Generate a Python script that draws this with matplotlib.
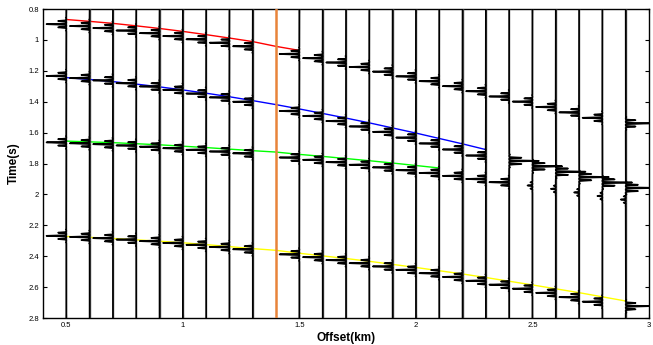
import numpy as np
import matplotlib
matplotlib.use("Agg")
import matplotlib.pyplot as plt

plt.rcParams['font.family'] = ['Liberation Sans', 'DejaVu Sans']

# ---- data ----
offsets = [0.5, 0.6, 0.7, 0.8, 0.9, 1.0, 1.1, 1.2, 1.3, 1.5, 1.6, 1.7, 1.8,
           1.9, 2.0, 2.1, 2.2, 2.3, 2.4, 2.5, 2.6, 2.7, 2.8, 2.9]
highlight_offset = 1.4

event1_t = [0.880, 0.892, 0.905, 0.921, 0.938, 0.957, 0.978, 1.000, 1.023, 1.073,
            1.100, 1.128, 1.157, 1.187, 1.218, 1.249, 1.281, 1.314, 1.348, 1.381,
            1.416, 1.451, 1.486, 1.522]
event2_t = [1.215, 1.229, 1.244, 1.262, 1.283, 1.305, 1.329, 1.354, 1.382, 1.442,
            1.474, 1.507, 1.542, 1.577, 1.614, 1.652, 1.691, 1.730, 1.765, 1.800,
            1.835, 1.870, 1.905, 1.940]
event3_t = [1.645, 1.651, 1.657, 1.665, 1.673, 1.683, 1.693, 1.704, 1.716, 1.743,
            1.758, 1.773, 1.790, 1.807, 1.825, 1.843, 1.862, 1.882, 1.903, 1.924,
            1.946, 1.969, 1.992, 2.015]
event4_t = [2.250, 2.257, 2.265, 2.274, 2.284, 2.296, 2.308, 2.322, 2.337, 2.370,
            2.388, 2.407, 2.427, 2.448, 2.470, 2.492, 2.516, 2.541, 2.566, 2.592,
            2.619, 2.647, 2.676, 2.705]

# positive = deflection to the left, negative = to the right
event1_amp = [1.0] * 23 + [-1.2]
event2_amp = [1.0] * 18 + [-1.5, -1.5, -1.5, -1.5, -1.5, -1.5]
event3_amp = [1.0] * 19 + [0.25, 0.25, 0.25, 0.25, 0.25]
event4_amp = [1.0] * 23 + [-1.2]

red_x = [0.5, 0.6, 0.7, 0.8, 0.9, 1.0, 1.1, 1.2, 1.3, 1.4, 1.5]
red_t = [0.868, 0.880, 0.893, 0.909, 0.926, 0.945, 0.966, 0.988, 1.011, 1.042, 1.068]

blue_x = [0.5, 0.6, 0.7, 0.8, 0.9, 1.0, 1.1, 1.2, 1.3, 1.4, 1.5, 1.6, 1.7, 1.8,
          1.9, 2.0, 2.1, 2.2, 2.3]
blue_t = [1.244, 1.256, 1.270, 1.286, 1.304, 1.324, 1.345, 1.368, 1.393, 1.419,
          1.447, 1.476, 1.506, 1.537, 1.570, 1.603, 1.638, 1.673, 1.710]

green_x = [0.5, 0.6, 0.7, 0.8, 0.9, 1.0, 1.1, 1.2, 1.3, 1.4, 1.5, 1.6, 1.7, 1.8,
           1.9, 2.0, 2.1]
green_t = [1.655, 1.660, 1.665, 1.672, 1.679, 1.688, 1.697, 1.707, 1.717, 1.726,
           1.741, 1.754, 1.768, 1.782, 1.797, 1.813, 1.829]

yellow_x = [0.5, 0.6, 0.7, 0.8, 0.9, 1.0, 1.1, 1.2, 1.3, 1.4, 1.5, 1.6, 1.7, 1.8,
            1.9, 2.0, 2.1, 2.2, 2.3, 2.4, 2.5, 2.6, 2.7, 2.8, 2.9]
yellow_t = [2.272, 2.278, 2.285, 2.294, 2.303, 2.313, 2.325, 2.338, 2.351, 2.362,
            2.381, 2.398, 2.415, 2.433, 2.453, 2.473, 2.494, 2.515, 2.538, 2.562,
            2.586, 2.611, 2.636, 2.663, 2.690]

x_ticks = [0.5, 1, 1.5, 2, 2.5, 3]
x_ticklabels = ['0.5', '1', '1.5', '2', '2.5', '3']
y_ticks = [0.8, 1.0, 1.2, 1.4, 1.6, 1.8, 2.0, 2.2, 2.4, 2.6, 2.8]
y_ticklabels = ['0.8', '1', '1.2', '1.4', '1.6', '1.8', '2', '2.2', '2.4', '2.6', '2.8']

# ---- drawing ----
W, H = 653, 345
fig = plt.figure(figsize=(W / 100, H / 100), dpi=100)
ax = fig.add_axes([43 / W, 1 - 318 / H, (649 - 43) / W, (318 - 9) / H])

t = np.arange(0.8, 2.8001, 0.0002)
scale = 0.085
f = 48.0
sigma = 0.022
delay = 0.018


def wavelet(tau):
    env = np.exp(-(tau / sigma) ** 2)
    return ((0.5 + 0.5 * np.cos(2 * np.pi * f * tau)) ** 6) * env


events = [(event1_t, event1_amp), (event2_t, event2_amp),
          (event3_t, event3_amp), (event4_t, event4_amp)]

for cx, ct, col in [(red_x, red_t, '#FF0000'), (blue_x, blue_t, '#0000FF'),
                    (green_x, green_t, '#00FF00'), (yellow_x, yellow_t, '#FFFF00')]:
    ax.plot(cx, ct, color=col, lw=1.0, zorder=2)

for i, x0 in enumerate(offsets):
    tr = np.zeros_like(t)
    for times, amps in events:
        tr -= amps[i] * wavelet(t - times[i] - delay)
    xs = x0 + scale * tr
    ax.axvline(x0, color='#555555', lw=1.0, zorder=3)
    ax.fill_betweenx(t, x0, xs, color='black', lw=0, zorder=4)
    ax.plot(xs, t, color='black', lw=1.2, zorder=4)

ax.axvline(highlight_offset, color='#E8843A', lw=1.8, zorder=5)

ax.set_xlim(0.4, 3.0)
ax.set_ylim(2.8, 0.8)
ax.set_xticks(x_ticks)
ax.set_xticklabels(x_ticklabels)
ax.set_yticks(y_ticks)
ax.set_yticklabels(y_ticklabels)
ax.tick_params(direction='in', length=3, width=0.8, labelsize=5.5,
               top=True, right=True, pad=3)
for s in ax.spines.values():
    s.set_linewidth(1.0)

ax.set_xlabel('Offset(km)', fontsize=8.5, fontweight='bold', labelpad=2)
ax.set_ylabel('Time(s)', fontsize=8.5, fontweight='bold', labelpad=6)

fig.savefig('out.png', dpi=100)
